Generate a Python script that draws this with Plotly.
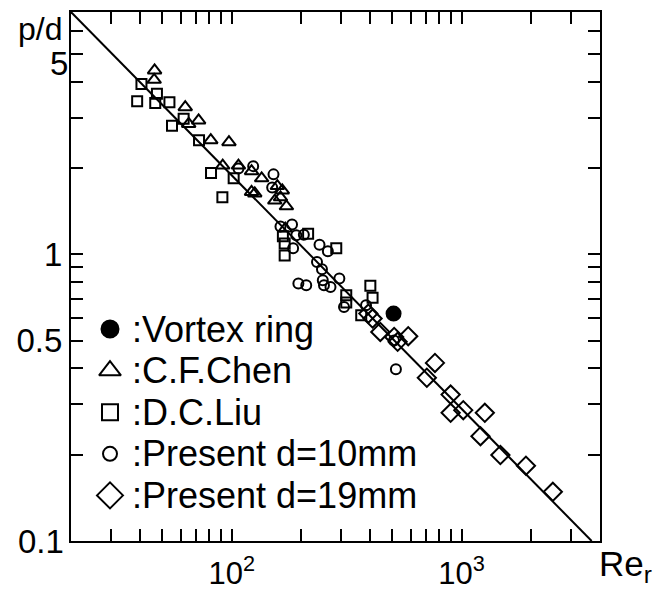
import math
import plotly.graph_objects as go

# ---------------- data ----------------
vortex_re = [506]
vortex_pd = [0.621]

chen_re = [46.2, 46.0, 62.8, 71.8, 65.0, 81.1, 97.3, 91.4, 107, 122, 135, 122, 126,
           158, 166, 154, 163, 173, 171]
chen_pd = [4.38, 4.06, 3.26, 2.93, 2.85, 2.50, 2.46, 2.04, 2.04, 1.95, 1.84, 1.65, 1.63,
           1.73, 1.67, 1.54, 1.58, 1.47, 1.23]

liu_re = [40.5, 38.8, 47.3, 46.5, 53.6, 61.8, 55.0, 72.1, 81.3, 102, 91.1, 167, 170, 170,
          215, 285, 315, 315, 401, 410, 366]
liu_pd = [3.93, 3.42, 3.63, 3.37, 3.39, 2.97, 2.81, 2.50, 1.92, 1.84, 1.58, 1.155, 1.09, 0.99,
          1.18, 1.05, 0.72, 0.679, 0.776, 0.705, 0.613]

p10_re = [107, 124, 152, 150, 163, 183, 191, 206, 185, 241, 262, 235, 247, 294, 195, 211,
          249, 252, 269, 308, 384, 518, 508]
p10_pd = [1.99, 2.03, 1.90, 1.71, 1.25, 1.27, 1.165, 1.17, 1.05, 1.08, 1.024, 0.94, 0.887,
          0.823, 0.791, 0.780, 0.812, 0.780, 0.769, 0.655, 0.664, 0.397, 0.50]

p19_re = [393, 410, 443, 509, 527, 586, 766, 706, 896, 896, 1017, 1262, 1208, 1475, 1905, 2494]
p19_pd = [0.621, 0.597, 0.536, 0.515, 0.495, 0.518, 0.418, 0.371, 0.324, 0.280, 0.286, 0.280,
          0.232, 0.1995, 0.183, 0.1485]

fit_re = [20, 3680]
fit_pd = [7.0, 0.1]

x_tickvals = [30, 40, 50, 60, 70, 80, 90, 100, 200, 300, 400, 500, 600, 700, 800, 900,
              1000, 2000, 3000]
x_ticktext = ["", "", "", "", "", "", "", "10<sup>2</sup>", "", "", "", "", "", "", "", "",
              "10<sup>3</sup>", "", ""]
y_tickvals = [0.2, 0.3, 0.4, 0.5, 0.6, 0.7, 0.8, 0.9, 1, 2, 3, 4, 5, 6]
y_ticktext = ["", "", "", "0.5", "", "", "", "", "1", "", "", "", "", ""]

legend_labels = [":Vortex ring", ":C.F.Chen", ":D.C.Liu", ":Present d=10mm", ":Present d=19mm"]
legend_symbols = ["circle", "triangle-up-open", "square-open", "circle-open", "diamond-open"]
legend_sizes = [17, 19, 16, 14, 20]

FONT = "Liberation Sans, Arial, Helvetica, sans-serif"

W, H = 663, 590
L_LEFT, L_RIGHT, L_TOP, L_BOTTOM = 71, 600, 12, 541
PW, PH = L_RIGHT - L_LEFT, L_BOTTOM - L_TOP


def px_to_paper(px, py):
    return (px - L_LEFT) / PW, (L_BOTTOM - py) / PH


fig = go.Figure()

# fitted line
fig.add_trace(go.Scatter(x=fit_re, y=fit_pd, mode="lines",
                         line=dict(color="black", width=2), showlegend=False,
                         hoverinfo="skip"))


def pts(xs, ys, symbol, size):
    return go.Scatter(x=xs, y=ys, mode="markers", showlegend=False,
                      marker=dict(symbol=symbol, size=size, color="black",
                                  line=dict(color="black", width=2)))


fig.add_trace(pts(liu_re, liu_pd, "square-open", 10))
fig.add_trace(pts(chen_re, chen_pd, "triangle-up-open", 12))
fig.add_trace(pts(p10_re, p10_pd, "circle-open", 10))
fig.add_trace(pts(p19_re, p19_pd, "diamond-open", 14))
fig.add_trace(pts(vortex_re, vortex_pd, "circle", 14))

# ---------------- legend (drawn on an overlay axis in pixel units) ----------------
leg_x = 110
leg_text_x = 130
leg_y0 = 329
leg_dy = 41.6
leg_ys = [leg_y0 + i * leg_dy for i in range(len(legend_labels))]

for sym, sz, yy in zip(legend_symbols, legend_sizes, leg_ys):
    fig.add_trace(go.Scatter(x=[leg_x], y=[yy], xaxis="x2", yaxis="y2", mode="markers",
                             showlegend=False, hoverinfo="skip",
                             marker=dict(symbol=sym, size=sz, color="black",
                                         line=dict(color="black", width=2))))

annotations = []
for lab, yy in zip(legend_labels, leg_ys):
    annotations.append(dict(x=leg_text_x, y=yy, xref="x2", yref="y2", text=lab,
                            showarrow=False, xanchor="left", yanchor="middle",
                            font=dict(family=FONT, size=36, color="black")))

ax, ay = px_to_paper(40, 29)
annotations.append(dict(x=ax, y=ay, xref="paper", yref="paper", text="p/d",
                        showarrow=False, xanchor="center", yanchor="middle",
                        font=dict(family=FONT, size=32, color="black")))
ax, ay = px_to_paper(70, 63)
annotations.append(dict(x=ax, y=ay, xref="paper", yref="paper", text="5",
                        showarrow=False, xanchor="right", yanchor="middle",
                        font=dict(family=FONT, size=33, color="black")))
ax, ay = px_to_paper(597, 566)
annotations.append(dict(x=ax, y=ay, xref="paper", yref="paper", text="Re<sub>r</sub>",
                        showarrow=False, xanchor="left", yanchor="middle",
                        font=dict(family=FONT, size=35, color="black")))
ax, ay = px_to_paper(66, 541)
annotations.append(dict(x=ax, y=ay, xref="paper", yref="paper", text="0.1",
                        showarrow=False, xanchor="right", yanchor="middle",
                        font=dict(family=FONT, size=33, color="black")))

axis_common = dict(showline=True, linecolor="black", linewidth=2, mirror="ticks",
                   ticks="inside", ticklen=12, tickwidth=2, tickcolor="black",
                   showgrid=False, zeroline=False, automargin=False)

fig.update_layout(
    template="none",
    width=W, height=H, autosize=False,
    margin=dict(l=L_LEFT, r=W - L_RIGHT, t=L_TOP, b=H - L_BOTTOM, pad=0),
    paper_bgcolor="white", plot_bgcolor="white",
    showlegend=False,
    xaxis=dict(type="log", range=[math.log10(20), math.log10(4000)],
               tickmode="array", tickvals=x_tickvals, ticktext=x_ticktext,
               ticklabelstandoff=4,
               tickfont=dict(family=FONT, size=31, color="black"), **axis_common),
    yaxis=dict(type="log", range=[-1, math.log10(7)],
               tickmode="array", tickvals=y_tickvals, ticktext=y_ticktext,
               ticklabelstandoff=0,
               tickfont=dict(family=FONT, size=33, color="black"), **axis_common),
    xaxis2=dict(overlaying="x", range=[L_LEFT, L_RIGHT], visible=False, automargin=False),
    yaxis2=dict(overlaying="y", range=[L_BOTTOM, L_TOP], visible=False, automargin=False),
    annotations=annotations,
)

fig.write_html("out.html", config={"displayModeBar": False},
               post_script="document.body.style.margin='0px';")
